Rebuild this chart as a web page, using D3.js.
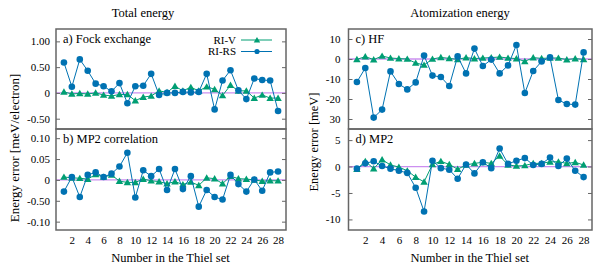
<!DOCTYPE html>
<html>
<head>
<meta charset="utf-8">
<script src="https://cdn.jsdelivr.net/npm/d3@7"></script>
</head>
<body style="margin:0; background:#fff">
<script>
// molecule number in the Thiel set
var molecules = d3.range(1, 29)

// a) Fock exchange, total energy [meV/electron]
var fockRIV = [0.02, -0.02, -0.01, -0.02, 0.0, -0.04, -0.06, -0.03, -0.03, -0.15, -0.08, -0.06, 0.04, 0.01,
    0.13, 0.04, 0.11, 0.04, 0.12, 0.07, -0.05, 0.15, 0.04, 0.04, -0.10, -0.04, -0.10, -0.10]
var fockRIRS = [0.59, 0.12, 0.65, 0.43, 0.18, 0.13, 0.03, 0.19, -0.20, 0.13, 0.14, 0.37, -0.04, 0.0,
    0.0, 0.02, 0.01, 0.02, 0.37, -0.32, 0.24, 0.44, 0.05, -0.12, 0.28, 0.25, 0.24, -0.35]

// b) MP2 correlation, total energy [meV/electron]
var mp2TotRIV = [0.007, 0.005, 0.004, 0.002, 0.013, 0.007, 0.012, -0.003, -0.006, -0.006, 0.002, -0.002, -0.004, -0.009,
    -0.004, -0.011, -0.005, -0.013, 0.005, 0.003, -0.009, 0.009, 0.003, 0.002, 0.0, -0.003, -0.002, -0.002]
var mp2TotRIRS = [-0.028, 0.007, -0.041, 0.012, 0.018, 0.007, 0.015, 0.032, 0.065, -0.042, 0.023, 0.009, 0.026, -0.024,
    0.026, -0.022, 0.009, -0.064, -0.024, -0.041, -0.047, 0.012, -0.010, -0.028, 0.001, -0.026, 0.018, 0.020]

// c) HF, atomization energy [meV]
var hfRIV = [-0.2, 1.2, -0.3, 1.5, 0.5, 0.2, 0.0, -2.0, -3.0, 0.0, 0.8, 0.3, -0.2, 0.7,
    0.2, 0.5, 0.7, 1.0, 0.5, 0.2, -1.2, 0.7, 0.3, 0.5, 0.5, -0.3, 0.2, -0.2]
var hfRIRS = [-11.5, -4.5, -29.3, -25.3, -6.2, -12.5, -15.2, -11.7, 1.7, -8.3, -9.0, -13.5, 1.3, -7.2,
    5.2, -3.5, -0.3, -7.2, -3.2, 7.0, -17.0, -6.0, -1.2, 0.8, -20.5, -22.5, -22.8, 3.3]

// d) MP2, atomization energy [meV]
var mp2AtRIV = [-0.5, 1.0, -0.4, 1.3, 0.3, -0.1, -0.8, -2.0, -2.9, 0.4, 1.0, 0.4, -0.5, 0.3,
    0.6, 0.8, 0.6, 2.0, 0.3, 0.1, 0.2, 0.6, 0.6, 0.9, 0.9, 0.6, 0.8, 0.3]
var mp2AtRIRS = [-0.4, 0.6, 1.0, 0.1, -0.4, -0.8, -1.2, -4.0, -8.5, 1.1, -0.3, -0.6, -2.3, 0.4,
    -1.3, 0.8, -0.3, 3.4, 0.5, 1.1, 1.6, 0.3, 0.5, 1.7, 0.1, 1.5, -0.8, -2.0]

var xTicks = [2, 4, 6, 8, 10, 12, 14, 16, 18, 20, 22, 24, 26, 28]

// tick labels as printed in the figure
var ticksA = [1.0, 0.5, 0, -0.5], labelsA = ["1.00", "0.50", "0", "-0.50"]
var ticksB = [0.1, 0.05, 0, -0.05, -0.1], labelsB = ["0.10", "0.05", "0", "-0.50", "-0.10"]
var ticksC = [10, 0, -10, -20, -30], labelsC = ["10", "0", "-10", "-20", "30"]
var ticksD = [5, 0, -5, -10], labelsD = ["5", "0", "-5", "-10"]

var colRIV = "#009e73", colRIRS = "#0072b2", colZero = "#cc8ff0", colBorder = "#666"
var serif = "Liberation Serif"

var width = 600, height = 270

var svg = d3.select("body").append("svg")
    .attr("width", width)
    .attr("height", height)
    .attr("font-family", serif)

var top1 = 29, mid = 129, bot = 230

var panels = [
    {x0: 56, x1: 286, y0: top1, y1: mid, dom: [-0.7, 1.24], ticks: ticksA, labels: labelsA, riv: fockRIV, rirs: fockRIRS, name: "a) Fock exchange", pad: 6, legend: true},
    {x0: 56, x1: 286, y0: mid, y1: bot, dom: [-0.12, 0.122], ticks: ticksB, labels: labelsB, riv: mp2TotRIV, rirs: mp2TotRIRS, name: "b) MP2 correlation", pad: 6},
    {x0: 348.5, x1: 592, y0: top1, y1: mid, dom: [-35, 15], ticks: ticksC, labels: labelsC, riv: hfRIV, rirs: hfRIRS, name: "c) HF", pad: 8},
    {x0: 348.5, x1: 592, y0: mid, y1: bot, dom: [-12, 7.1], ticks: ticksD, labels: labelsD, riv: mp2AtRIV, rirs: mp2AtRIRS, name: "d) MP2", pad: 8}
]

var tri = d3.symbol().type(d3.symbolTriangle).size(24)
var triSmall = d3.symbol().type(d3.symbolTriangle).size(18)

panels.forEach(function (p) {
    var x = d3.scaleLinear().domain([0, 29]).range([p.x0, p.x1])
    var y = d3.scaleLinear().domain(p.dom).range([p.y1, p.y0])
    var g = svg.append("g")

    // zero line
    g.append("line")
        .attr("x1", p.x0).attr("x2", p.x1)
        .attr("y1", y(0)).attr("y2", y(0))
        .attr("stroke", colZero).attr("stroke-width", 1.3)

    // y ticks, inward on both sides
    var yAxis = d3.axisLeft(y).tickValues(p.ticks).tickSize(-4).tickPadding(p.pad)
        .tickFormat(function (d, i) { return p.labels[i] })
    g.append("g").attr("transform", "translate(" + p.x0 + ",0)").call(yAxis)
        .call(function (a) {
            a.attr("font-family", serif).attr("font-size", 11)
            a.select(".domain").remove()
            a.selectAll("line").attr("stroke", colBorder)
        })
    g.append("g").attr("transform", "translate(" + p.x1 + ",0)")
        .call(d3.axisRight(y).tickValues(p.ticks).tickSize(-4).tickFormat(""))
        .call(function (a) {
            a.select(".domain").remove()
            a.selectAll("line").attr("stroke", colBorder)
        })

    var line = d3.line().x(function (d, i) { return x(molecules[i]) }).y(function (d) { return y(d) })

    g.append("path").datum(p.riv)
        .attr("d", line).attr("fill", "none").attr("stroke", colRIV).attr("stroke-width", 1)
    g.selectAll("path.tri").data(p.riv).enter().append("path")
        .attr("class", "tri")
        .attr("d", tri)
        .attr("transform", function (d, i) { return "translate(" + x(molecules[i]) + "," + (y(d) + 0.7) + ")" })
        .attr("fill", colRIV)

    g.append("path").datum(p.rirs)
        .attr("d", line).attr("fill", "none").attr("stroke", colRIRS).attr("stroke-width", 1)
    g.selectAll("circle").data(p.rirs).enter().append("circle")
        .attr("cx", function (d, i) { return x(molecules[i]) })
        .attr("cy", function (d) { return y(d) })
        .attr("r", 3.3)
        .attr("fill", colRIRS)

    g.append("text")
        .attr("x", p.x0 + 7).attr("y", p.y0 + 14)
        .attr("font-size", 12.5)
        .text(p.name)

    if (p.legend) {
        var names = ["RI-V", "RI-RS"], cols = [colRIV, colRIRS]
        names.forEach(function (n, i) {
            var ly = p.y0 + 11 + i * 11.5
            g.append("text").attr("x", p.x1 - 50).attr("y", ly + 3.5)
                .attr("text-anchor", "end").attr("font-size", 11).text(n)
            g.append("line").attr("x1", p.x1 - 45).attr("x2", p.x1 - 14)
                .attr("y1", ly).attr("y2", ly).attr("stroke", cols[i]).attr("stroke-width", 1)
            if (i == 0) {
                g.append("path").attr("d", triSmall).attr("fill", cols[i])
                    .attr("transform", "translate(" + (p.x1 - 29) + "," + (ly + 0.6) + ")")
            } else {
                g.append("circle").attr("cx", p.x1 - 29).attr("cy", ly).attr("r", 2.6).attr("fill", cols[i])
            }
        })
    }

    // frame
    g.append("rect")
        .attr("x", p.x0).attr("y", p.y0)
        .attr("width", p.x1 - p.x0).attr("height", p.y1 - p.y0)
        .attr("fill", "none").attr("stroke", colBorder).attr("stroke-width", 1.5)

    // x axis labels below lower panels
    if (p.y1 == bot) {
        g.append("g").attr("transform", "translate(0," + bot + ")")
            .call(d3.axisBottom(x).tickValues(xTicks).tickSize(0).tickPadding(6))
            .call(function (a) {
                a.attr("font-family", serif).attr("font-size", 11)
                a.select(".domain").remove()
            })
        g.append("text")
            .attr("x", (p.x0 + p.x1) / 2 - 0.5).attr("y", 262)
            .attr("text-anchor", "middle").attr("font-size", 12.5)
            .text("Number in the Thiel set")
    }
})

// column titles
svg.append("text").attr("x", 143).attr("y", 17).attr("text-anchor", "middle")
    .attr("font-size", 12.5).text("Total energy")
svg.append("text").attr("x", 460).attr("y", 17).attr("text-anchor", "middle")
    .attr("font-size", 12.5).text("Atomization energy")

// y-axis titles
svg.append("text").attr("transform", "translate(19,148) rotate(-90)")
    .attr("text-anchor", "middle").attr("font-size", 13).text("Energy error [meV/electron]")
svg.append("text").attr("transform", "translate(318,142) rotate(-90)")
    .attr("text-anchor", "middle").attr("font-size", 12.5).text("Energy error [meV]")
</script>
</body>
</html>
